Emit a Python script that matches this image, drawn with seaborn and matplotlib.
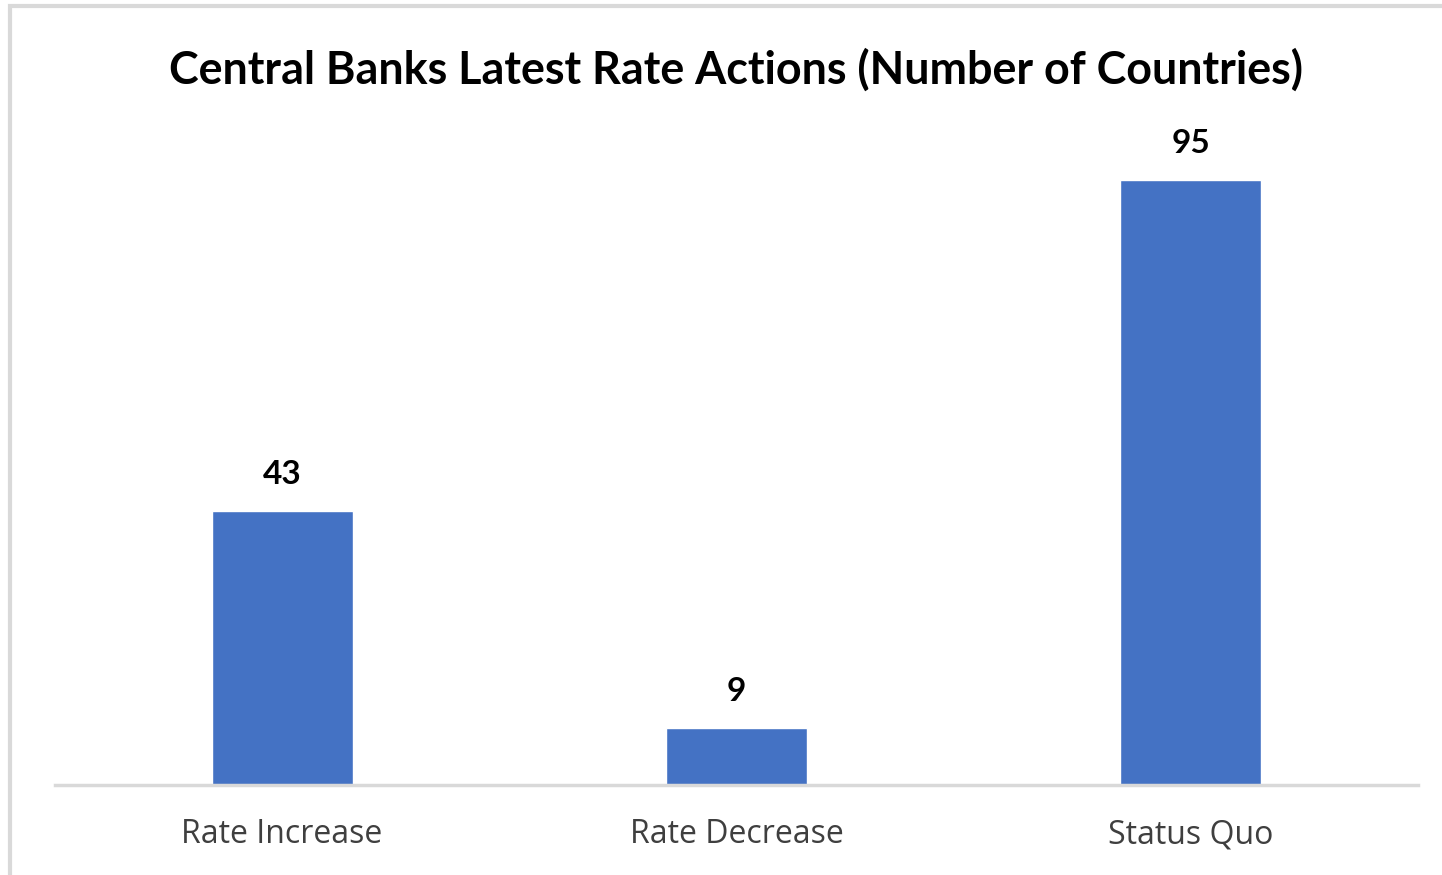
import matplotlib
matplotlib.use("Agg")
import matplotlib.pyplot as plt
import seaborn as sns
import pandas as pd
from matplotlib.patches import Rectangle

# data
actions = ["Rate Increase", "Rate Decrease", "Status Quo"]
countries = [43, 9, 95]

df = pd.DataFrame({"action": actions, "countries": countries})

sns.set_style("white")
plt.rcParams['font.family'] = ['Lato', 'DejaVu Sans']

fig = plt.figure(figsize=(14.42, 8.75), dpi=100)
ax = fig.add_axes([0.0381, 0.1029, 0.9452, 0.728])

sns.barplot(data=df, x="action", y="countries", color="#4472C4",
            saturation=1, width=0.31, ax=ax)

# value labels above bars
for i, v in enumerate(countries):
    ax.text(i, v + 4.2, str(v), ha="center", va="baseline",
            fontsize=24, fontweight="bold", color="#000000")

ax.set_xlim(-0.5, 2.5)
ax.set_ylim(0, 100)
ax.set_xlabel("")
ax.set_ylabel("")
ax.set_yticks([])
ax.tick_params(axis="x", length=0, pad=24, labelsize=23, labelcolor="#3F3F3F")
for lbl in ax.get_xticklabels():
    lbl.set_family(["Open Sans", "DejaVu Sans"])
for s in ["top", "right", "left"]:
    ax.spines[s].set_visible(False)
ax.spines["bottom"].set_color("#D9D9D9")
ax.spines["bottom"].set_linewidth(2.5)

fig.text(0.5105, 0.920, "Central Banks Latest Rate Actions (Number of Countries)",
         ha="center", va="center", fontsize=32.3, fontweight="bold", color="#000000")

# outer chart border (only top/left visible in crop)
fig.patches.append(Rectangle((10 / 1442, -0.1), 1.2, (875 - 6) / 875 + 0.1,
                             transform=fig.transFigure, fill=False,
                             edgecolor="#D9D9D9", linewidth=3))

fig.savefig("out.png", dpi=100)
